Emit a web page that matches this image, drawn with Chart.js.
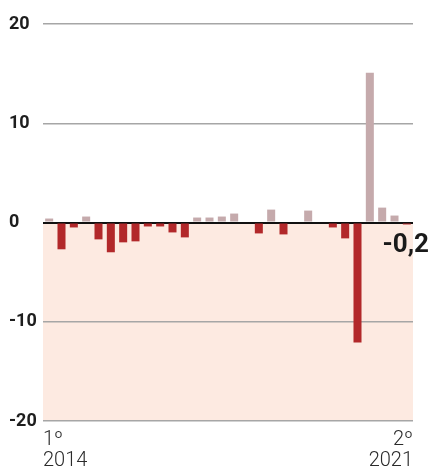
<!DOCTYPE html>
<html>
<head>
<meta charset="utf-8">
<script src="https://cdn.jsdelivr.net/npm/chart.js@4/dist/chart.umd.min.js"></script>
<style>
  html, body { margin: 0; padding: 0; background: #ffffff; }
  #wrap { width: 430px; height: 468px; }
</style>
</head>
<body>
<div id="wrap"><canvas id="c" width="430" height="468"></canvas></div>
<script>
// Quarters from 1º 2014 to 2º 2021
const years = [2014, 2015, 2016, 2017, 2018, 2019, 2020, 2021];
const quarters = [];
years.forEach(y => {
  for (let q = 1; q <= 4; q++) {
    if (y === 2021 && q > 2) break;
    quarters.push(q + 'º ' + y);
  }
});

// Quarter-on-quarter change, %
const values = [
  0.4, -2.7, -0.5, 0.6,
  -1.7, -3.0, -2.0, -1.9,
  -0.4, -0.4, -1.0, -1.5,
  0.5, 0.5, 0.6, 0.9,
  0, -1.1, 1.3, -1.2,
  0, 1.2, 0, -0.5,
  -1.6, -12.1, 15.1, 1.5,
  0.7, -0.2
];

// Axis labels
const yTicks = [-20, -10, 0, 10, 20];
const edgeQuarters = ['1º', '2º'];
const edgeYears = ['2014', '2021'];

const RED = 'rgb(178,40,42)';
const GREY = 'rgb(197,170,172)';
const PEACH = 'rgb(253,234,225)';

// Shaded band below the zero line
const negativeBand = {
  id: 'negativeBand',
  beforeDraw(chart) {
    const { ctx, chartArea, scales } = chart;
    const y0 = scales.y.getPixelForValue(0);
    const yMin = scales.y.getPixelForValue(yTicks[0]);
    ctx.save();
    ctx.fillStyle = PEACH;
    ctx.fillRect(chartArea.left, y0, chartArea.right - chartArea.left, yMin - y0);
    ctx.restore();
  }
};

// Value of the latest quarter, beside its bar
const lastValueLabel = {
  id: 'lastValueLabel',
  afterDatasetsDraw(chart) {
    const { ctx, scales } = chart;
    const i = values.length - 1;
    const txt = values[i].toFixed(1).replace('.', ',');
    const y = scales.y.getPixelForValue(0) + 23;
    ctx.save();
    ctx.font = 'bold 26px Roboto, "Liberation Sans", sans-serif';
    ctx.fillStyle = '#1a1a1a';
    ctx.textAlign = 'right';
    ctx.textBaseline = 'middle';
    ctx.fillText(txt, chart.width - 1, y);
    ctx.restore();
  }
};

new Chart(document.getElementById('c'), {
  type: 'bar',
  data: {
    labels: quarters,
    datasets: [{
      data: values,
      backgroundColor: values.map(v => v < 0 ? RED : GREY),
      borderWidth: 0,
      categoryPercentage: 0.65,
      barPercentage: 1
    }]
  },
  options: {
    responsive: false,
    animation: false,
    layout: { padding: { left: 9, right: 17, top: 24, bottom: 0 } },
    plugins: { legend: { display: false }, tooltip: { enabled: false } },
    scales: {
      x: {
        display: false
      },
      xl: {
        type: 'linear',
        position: 'bottom',
        offset: false,
        min: 0,
        max: 1,
        grid: { display: false, offset: false },
        border: { display: false },
        afterBuildTicks(scale) {
          scale.ticks = [{ value: 0 }, { value: 1 }];
        },
        afterFit(scale) { scale.height = 47; },
        ticks: {
          autoSkip: false,
          maxRotation: 0,
          align: 'inner',
          padding: 0,
          color: '#2a2a2a',
          font: { family: 'Roboto, "Liberation Sans", sans-serif', size: 20, weight: '300', lineHeight: 1.05 },
          callback(value, index) {
            return [edgeQuarters[index], edgeYears[index]];
          }
        }
      },
      y: {
        min: yTicks[0],
        max: yTicks[yTicks.length - 1],
        afterBuildTicks(scale) {
          scale.ticks = yTicks.map(v => ({ value: v }));
        },
        afterFit(scale) { scale.width = 34; },
        border: { display: false },
        grid: {
          drawTicks: false,
          color: ctx => ctx.tick.value === 0 ? '#111111' : '#a6a6a6',
          lineWidth: ctx => ctx.tick.value === 0 ? 2 : 1.5
        },
        ticks: {
          crossAlign: 'far',
          padding: 0,
          color: '#1e1e1e',
          font: { family: 'Roboto, "Liberation Sans", sans-serif', size: 18, weight: 'bold' }
        }
      }
    }
  },
  plugins: [negativeBand, lastValueLabel]
});
</script>
</body>
</html>
